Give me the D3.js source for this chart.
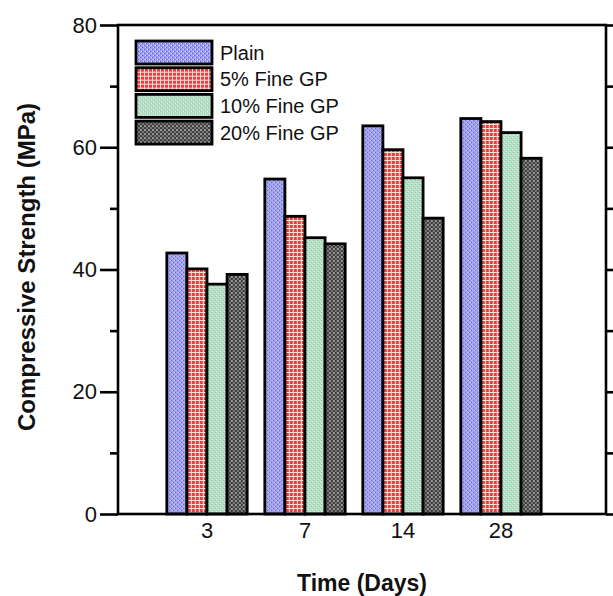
<!DOCTYPE html>
<html>
<head>
<meta charset="utf-8">
<script src="https://cdn.jsdelivr.net/npm/d3@7/dist/d3.min.js"></script>
<style>
  html, body { margin: 0; padding: 0; background: #fff; }
  svg { display: block; }
  text { font-family: "Liberation Sans", Arial, Helvetica, sans-serif; fill: #111; }
</style>
</head>
<body>
<svg id="chart" width="613" height="596"></svg>
<script>
// Curing ages (days) and compressive strength (MPa) per mix
const days = ["3", "7", "14", "28"];
const seriesNames = ["Plain", "5% Fine GP", "10% Fine GP", "20% Fine GP"];
const plain    = [42.7, 54.8, 63.5, 64.7];
const fineGP5  = [40.1, 48.7, 59.6, 64.2];
const fineGP10 = [37.6, 45.2, 55.0, 62.4];
const fineGP20 = [39.2, 44.2, 48.4, 58.2];
const majorTicks = [0, 20, 40, 60, 80];
const minorTicks = [10, 30, 50, 70];

const seriesValues = [plain, fineGP5, fineGP10, fineGP20];
const patternIds = ["pat-plain", "pat-gp5", "pat-gp10", "pat-gp20"];

const svg = d3.select("#chart");

// Plot frame
const frameL = 118, frameR = 606, frameT = 25, frameB = 514;

// ---- fill patterns ----
const defs = svg.append("defs");
function tile(id, size, bg, cells) {
  const p = defs.append("pattern").attr("id", id)
    .attr("patternUnits", "userSpaceOnUse")
    .attr("width", size).attr("height", size);
  p.append("rect").attr("width", size).attr("height", size).attr("fill", bg);
  cells.forEach(c => p.append("rect")
    .attr("x", c[0]).attr("y", c[1]).attr("width", c[2]).attr("height", c[3])
    .attr("fill", c[4]));
}
// blue halftone
tile("pat-plain", 4, "#a0a0f3", [
  [0, 0, 1, 1, "#5a5ac8"], [2, 2, 1, 1, "#5a5ac8"],
  [1, 2, 1, 1, "#d2d2fb"], [3, 0, 1, 1, "#d2d2fb"]
]);
// red checked grid
tile("pat-gp5", 4, "#ef3d3d", [
  [0, 0, 4, 1, "#ffe0e0"], [0, 0, 1, 4, "#ffe0e0"]
]);
// mint halftone
tile("pat-gp10", 4, "#b6dfc6", [
  [0, 0, 1, 1, "#8ec4a4"], [2, 2, 1, 1, "#8ec4a4"],
  [1, 3, 1, 1, "#e2f4e9"], [3, 1, 1, 1, "#e2f4e9"]
]);
// dark dotted
tile("pat-gp20", 4, "#3a3a3a", [
  [0, 0, 2, 2, "#9a9a9a"], [2, 2, 2, 2, "#7a7a7a"]
]);

// ---- scales ----
const y = d3.scaleLinear().domain([0, 80]).range([frameB, frameT]);
const x0 = d3.scaleBand().domain(days).range([158, 550])
  .paddingInner(0.18).paddingOuter(0.09);
const x1 = d3.scaleBand().domain(d3.range(seriesNames.length))
  .range([0, x0.bandwidth()]);

// ---- bars ----
const groups = svg.append("g").selectAll("g")
  .data(days).join("g")
  .attr("transform", d => `translate(${x0(d)},0)`);

groups.selectAll("rect")
  .data((d, i) => seriesValues.map((vals, s) => ({ s, v: vals[i] })))
  .join("rect")
  .attr("x", d => x1(d.s))
  .attr("y", d => y(d.v))
  .attr("width", x1.bandwidth())
  .attr("height", d => y(0) - y(d.v))
  .attr("fill", d => `url(#${patternIds[d.s]})`)
  .attr("stroke", "#000")
  .attr("stroke-width", 2.8);

// ---- axes ----
const axisStroke = 2.6;
function styleAxis(g) {
  g.selectAll("path.domain").remove();
  g.selectAll("line").attr("stroke", "#000").attr("stroke-width", axisStroke);
}

svg.append("g").attr("transform", `translate(${frameL},0)`)
  .call(d3.axisLeft(y).tickValues(majorTicks).tickSize(18).tickPadding(3))
  .call(styleAxis)
  .call(g => g.selectAll("text").attr("font-size", 22).attr("fill", "#111")
    .attr("font-family", "Liberation Sans, Arial, sans-serif"));

svg.append("g").attr("transform", `translate(${frameL},0)`)
  .call(d3.axisLeft(y).tickValues(minorTicks).tickSize(8).tickFormat(""))
  .call(styleAxis);

svg.append("g").attr("transform", `translate(${frameR},0)`)
  .call(d3.axisRight(y).tickValues(majorTicks).tickSize(18).tickFormat(""))
  .call(styleAxis);

svg.append("g").attr("transform", `translate(${frameR},0)`)
  .call(d3.axisRight(y).tickValues(minorTicks).tickSize(8).tickFormat(""))
  .call(styleAxis);

svg.append("g").attr("transform", `translate(0,${frameB})`)
  .call(d3.axisBottom(x0).tickSize(0).tickPadding(8))
  .call(styleAxis)
  .call(g => g.selectAll("text").attr("font-size", 22).attr("fill", "#111")
    .attr("font-family", "Liberation Sans, Arial, sans-serif"));

// frame
svg.append("rect")
  .attr("x", frameL).attr("y", frameT)
  .attr("width", frameR - frameL).attr("height", frameB - frameT)
  .attr("fill", "none").attr("stroke", "#000").attr("stroke-width", axisStroke);

// ---- titles ----
svg.append("text")
  .attr("transform", "translate(27,267) rotate(-90)")
  .attr("text-anchor", "middle").attr("dy", "0.35em")
  .attr("font-size", 24).attr("font-weight", "bold")
  .text("Compressive Strength (MPa)");

svg.append("text")
  .attr("x", (frameL + frameR) / 2).attr("y", 591)
  .attr("text-anchor", "middle")
  .attr("font-size", 23).attr("font-weight", "bold")
  .text("Time (Days)");

// ---- legend ----
const legend = svg.append("g").attr("transform", "translate(136,41)");
const items = legend.selectAll("g").data(seriesNames).join("g")
  .attr("transform", (d, i) => `translate(0,${i * 26.7})`);
items.append("rect")
  .attr("width", 76).attr("height", 23)
  .attr("fill", (d, i) => `url(#${patternIds[i]})`)
  .attr("stroke", "#000").attr("stroke-width", 2.8);
items.append("text")
  .attr("x", 84).attr("y", 11.5).attr("dy", "0.35em")
  .attr("font-size", 20)
  .text(d => d);
</script>
</body>
</html>
